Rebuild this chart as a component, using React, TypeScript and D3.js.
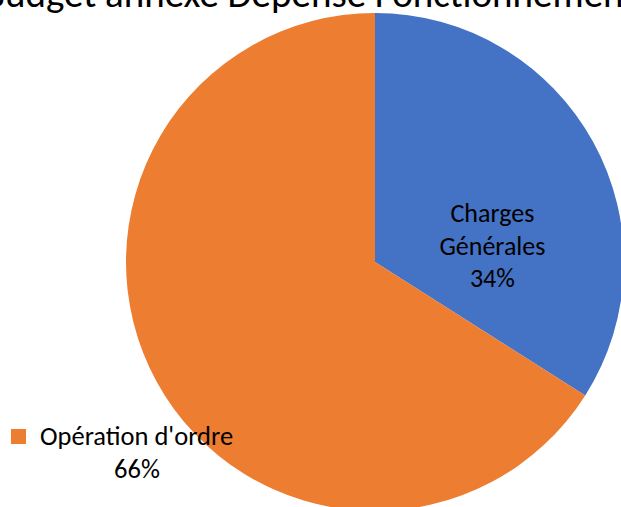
import { useEffect, useRef } from 'react'
import * as d3 from 'd3'

const categories = ['Charges Générales', "Opération d'ordre"]
const shares = [34, 66]
const colors = ['#4472C4', '#ED7D31']
const title = 'Budget annexe Dépense Fonctionnement'

const width = 621
const height = 507
const font = 'Carlito, Calibri, Lato, sans-serif'

export default function App() {
  const svgRef = useRef<SVGSVGElement>(null)

  useEffect(() => {
    if (!svgRef.current) return
    const root = d3.select(svgRef.current)
    root.selectAll('*').remove()

    const cx = 375
    const cy = 262
    const r = 249

    const data = categories.map((name, i) => ({ name, value: shares[i], color: colors[i] }))
    const pie = d3.pie<typeof data[0]>().sort(null).value((d) => d.value)
    const arc = d3.arc<d3.PieArcDatum<typeof data[0]>>().innerRadius(0).outerRadius(r)
    const arcs = pie(data)

    const g = root.append('g').attr('transform', `translate(${cx},${cy})`)
    g.selectAll('path')
      .data(arcs)
      .enter()
      .append('path')
      .attr('d', arc)
      .attr('fill', (d) => d.data.color)

    // title, clipped at the top like the original
    root
      .append('text')
      .attr('x', 310)
      .attr('y', 7)
      .attr('text-anchor', 'middle')
      .style('font-family', font)
      .style('font-size', '39px')
      .attr('fill', '#000')
      .text(title)

    // label inside the blue slice (best-fit position, a bit below the mid angle)
    const a0 = arcs[0]
    const mid = (a0.startAngle + a0.endAngle) / 2
    const lx = cx + Math.sin(mid) * 134
    const t0 = root
      .append('text')
      .attr('text-anchor', 'middle')
      .style('font-family', font)
      .style('font-size', '26px')
      .attr('fill', '#000')
    const lines0 = ['Charges', 'Générales', `${a0.data.value}%`]
    lines0.forEach((s, i) => {
      t0.append('tspan')
        .attr('x', lx)
        .attr('y', 222 + i * 32.5)
        .text(s)
    })

    // label outside with legend key for the orange slice
    const a1 = arcs[1]
    root
      .append('rect')
      .attr('x', 11)
      .attr('y', 429)
      .attr('width', 15)
      .attr('height', 15)
      .attr('fill', a1.data.color)
    root
      .append('text')
      .attr('x', 40)
      .attr('y', 445)
      .style('font-family', font)
      .style('font-size', '26.5px')
      .attr('fill', '#000')
      .text(a1.data.name)
    root
      .append('text')
      .attr('x', 137)
      .attr('y', 478)
      .attr('text-anchor', 'middle')
      .style('font-family', font)
      .style('font-size', '26.5px')
      .attr('fill', '#000')
      .text(`${a1.data.value}%`)
  }, [])

  return (
    <svg
      ref={svgRef}
      width={width}
      height={height}
      style={{ position: 'absolute', left: 0, top: 0, background: '#fff' }}
    />
  )
}
